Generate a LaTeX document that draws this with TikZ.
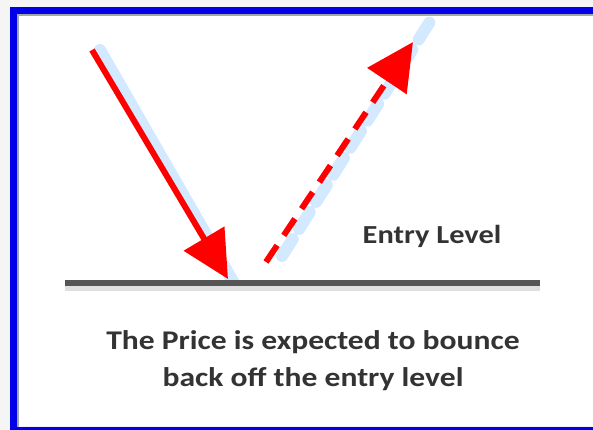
\documentclass[tikz,border=0pt]{standalone}
\usepackage{fontspec}
\setmainfont{Carlito}
\newfontfamily\widefont[FakeStretch=1.17]{Carlito}
\usetikzlibrary{arrows.meta}

\definecolor{frameblue}{RGB}{0,0,235}
\definecolor{barkgray}{RGB}{85,85,85}
\definecolor{textgray}{RGB}{51,51,51}
\definecolor{glowblue}{RGB}{110,185,255}

\tikzset{
  move/.style={line width=6pt,red,-{Triangle[length=47pt,width=46pt]}},
  glow/.style={line width=12pt,glowblue,opacity=0.3,line cap=round},
  caption/.style={font=\widefont\bfseries\fontsize{27}{37}\selectfont,textgray,align=center}
}

\begin{document}
\begin{tikzpicture}[x=1pt,y=-1pt]
  \useasboundingbox (0,0) rectangle (593,430);
  % Background and frame
  \fill[gray!8] (0,0) rectangle (593,430);
  \fill[white] (17,14) rectangle (600,426);
  \draw[gray!70,line width=2.5pt] (18,430) -- (18,15) -- (600,15);
  \draw[frameblue,line width=7pt] (13.5,10.5) rectangle (600,430);
  % Key points
  \coordinate (downstart) at (92,50);
  \coordinate (touch) at (228,279);
  \coordinate (upstart) at (266,262);
  \coordinate (upend) at (413,42);
  \coordinate (levelleft) at (65,283);
  \coordinate (levelright) at (540,283);
  % Soft glow behind the moves
  \draw[glow] ([xshift=8pt]downstart) -- ([xshift=6pt,yshift=-4pt]touch);
  \draw[glow,dash pattern=on 20pt off 12pt] ([xshift=16pt,yshift=6pt]upstart) -- ([xshift=18pt,yshift=22pt]upend);
  % Entry level line
  \draw[gray!25,line width=6pt] ([yshift=-5pt]levelleft) -- ([yshift=-5pt]levelright);
  \draw[barkgray,line width=6pt] (levelleft) -- (levelright);
  % Price moves
  \draw[move] (downstart) -- (touch);
  \draw[move,dash pattern=on 20pt off 12pt] (upstart) -- (upend);
  % Labels
  \node[font=\widefont\bfseries\fontsize{26}{30}\selectfont,textgray] (entry) at (432,236) {Entry Level};
  \node[caption] (note) at (313,361) {The Price is expected to bounce\\back off the entry level};
\end{tikzpicture}
\end{document}
